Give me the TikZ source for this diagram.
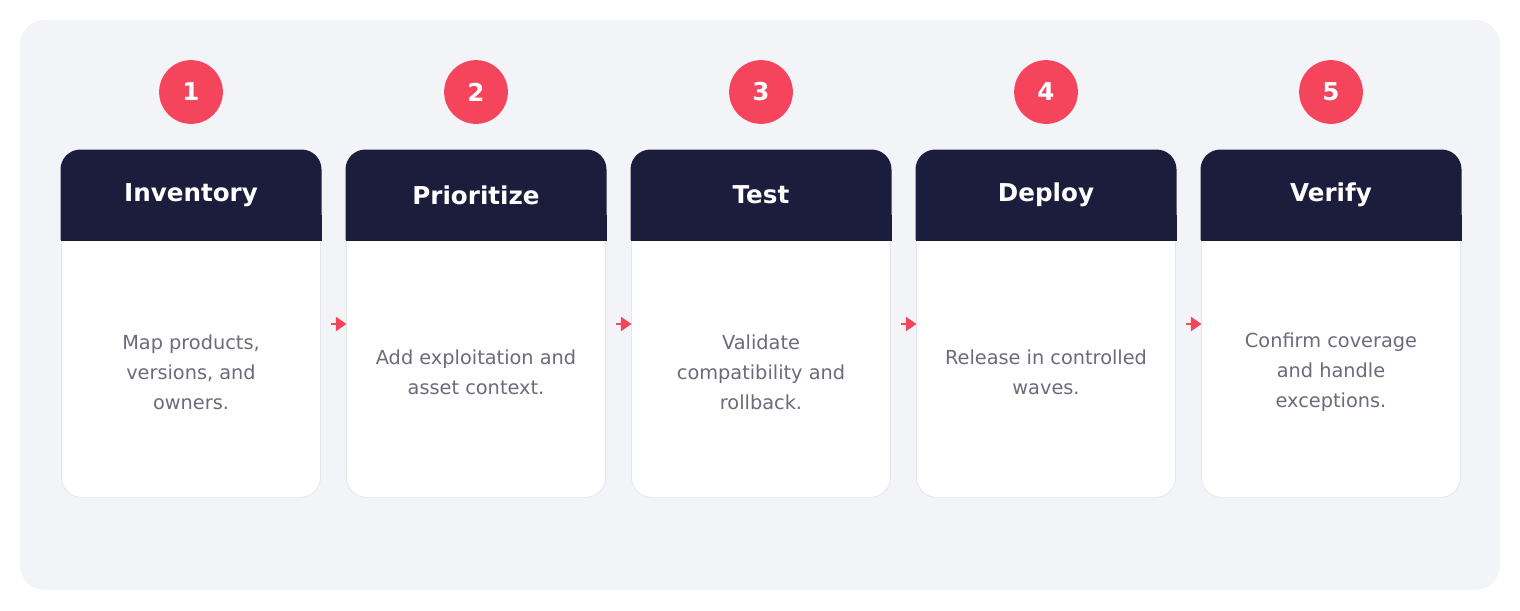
\documentclass[tikz,border=0pt]{standalone}
\usepackage{fontspec}
\setmainfont{DejaVu Sans}
\usetikzlibrary{arrows.meta}
\definecolor{bgpanel}{HTML}{F3F4F8}
\definecolor{navy}{HTML}{1C1C3C}
\definecolor{accent}{HTML}{F5455C}
\definecolor{bodygrey}{HTML}{6B6B7B}
\definecolor{edgegrey}{HTML}{E4E5EA}
\begin{document}
\begin{tikzpicture}[x=0.02cm,y=-0.02cm,outer sep=0pt,
	card/.style={draw=edgegrey,fill=white,rounded corners=20pt*0.567,minimum width=260*0.567pt,minimum height=348*0.567pt,inner sep=0pt},
	badge/.style={circle,fill=accent,minimum size=64*0.567pt,inner sep=0pt,text=white,font=\fontsize{14}{16}\selectfont\bfseries},
	title/.style={text=white,font=\fontsize{14}{16}\selectfont\bfseries},
	body/.style={text=bodygrey,align=center,font=\fontsize{11}{17}\selectfont}]
	\useasboundingbox (0,0) rectangle (1520,610);
	\fill[bgpanel,rounded corners=14pt] (20,20) rectangle (1500,590);
	\foreach \i/\t/\b in {1/Inventory/{Map products,\\versions, and\\owners.},
		2/Prioritize/{Add exploitation and\\asset context.},
		3/Test/{Validate\\compatibility and\\rollback.},
		4/Deploy/{Release in controlled\\waves.},
		5/Verify/{Confirm coverage\\and handle\\exceptions.}} {
		\pgfmathsetmacro\cx{191+285*(\i-1)}
		\node[card] (c\i) at (\cx,324) {};
		\fill[navy,rounded corners=20pt*0.567] (\cx-130.5,240) -- (\cx-130.5,149.5) -- (\cx+130.5,149.5) -- (\cx+130.5,240) [sharp corners] -- cycle;
		\fill[navy] (\cx-130.5,215) rectangle (\cx+130.5,241);
		\node[title] (h\i) at (\cx,195) {\t};
		\node[badge] (n\i) at (\cx,92) {\i};
		\node[body] (t\i) at (\cx,372) {\b};
	}
	\foreach \i [evaluate=\i as \j using int(\i+1)] in {1,...,4}
		\draw[accent,line width=1pt,-{Triangle[length=6pt,width=8pt]}] ([xshift=6pt]c\i.east) -- (c\j.west);
\end{tikzpicture}
\end{document}
